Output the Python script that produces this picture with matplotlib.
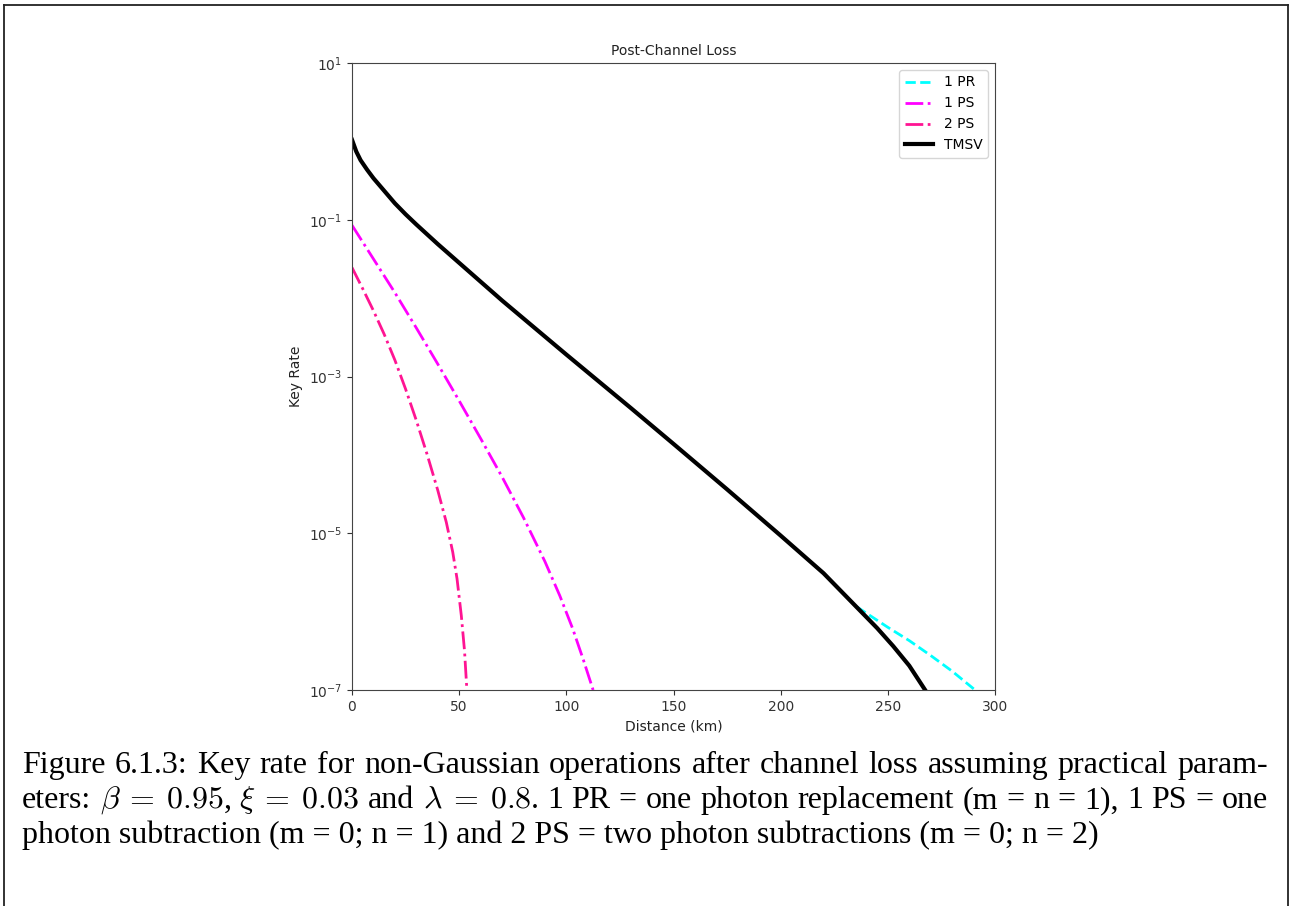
import matplotlib
matplotlib.use("Agg")
import matplotlib.pyplot as plt
import numpy as np
from matplotlib.lines import Line2D

# distances in km, rates as log10(key rate)
tmsv_km = [0, 2, 4, 7, 10, 15, 20, 25, 30, 40, 50, 60, 70, 80, 90, 100,
           115, 130, 150, 175, 200, 220, 235, 245, 252.5, 260, 267.4]
tmsv_log = [0.02, -0.13, -0.24, -0.36, -0.47, -0.63, -0.79, -0.93, -1.06, -1.31,
            -1.55, -1.79, -2.03, -2.26, -2.49, -2.72, -3.06, -3.40, -3.86, -4.44,
            -5.03, -5.51, -5.93, -6.21, -6.44, -6.69, -7.00]

ps1_km = [0, 10, 20, 30, 40, 50, 60, 70, 80, 90, 97, 103, 108, 112.5]
ps1_log = [-1.07, -1.50, -1.93, -2.38, -2.84, -3.31, -3.79, -4.28, -4.80, -5.36,
           -5.80, -6.22, -6.62, -7.00]

ps2_km = [0, 5, 10, 15, 20, 25, 30, 35, 40, 44, 47, 49, 51, 52.5, 53.6]
ps2_log = [-1.61, -1.88, -2.16, -2.46, -2.79, -3.16, -3.56, -3.99, -4.45, -4.86,
           -5.24, -5.58, -6.05, -6.50, -7.00]

pr1_km = [235.6, 240, 250, 260, 270, 280, 290.7]
pr1_log = [-5.94, -6.02, -6.20, -6.37, -6.56, -6.76, -7.00]

caption_1 = ["Figure", "6.1.3:", "Key", "rate", "for", "non-Gaussian", "operations",
             "after", "channel", "loss", "assuming", "practical", "param-"]
caption_2 = ["eters:", r"$\beta\:=\:0.95$,", r"$\xi\:=\:0.03$", "and", r"$\lambda\:=\:0.8$.",
             "1", "PR", "=", "one", "photon", "replacement", "(m", "=", "n", "=", "1),",
             "1", "PS", "=", "one"]
caption_3 = "photon subtraction (m = 0; n = 1) and 2 PS = two photon subtractions (m = 0; n = 2)"

W, H = 1290, 906
fig = plt.figure(figsize=(W / 100, H / 100), dpi=100)
ax = fig.add_axes([352 / W, 1 - 690 / H, (995 - 352) / W, (690 - 63) / H])

ax.plot(pr1_km, np.power(10.0, pr1_log), '--', color='cyan', lw=2, label='1 PR')
ax.plot(ps1_km, np.power(10.0, ps1_log), '-.', color='magenta', lw=2, label='1 PS')
ax.plot(ps2_km, np.power(10.0, ps2_log), '-.', color='#ff1493', lw=2, label='2 PS')
ax.plot(tmsv_km, np.power(10.0, tmsv_log), '-', color='black', lw=3, label='TMSV')

ax.set_yscale('log')
ax.set_xlim(0, 300)
ax.set_ylim(1e-7, 10)
ax.set_yticks([1e1, 1e-1, 1e-3, 1e-5, 1e-7])
ax.minorticks_off()
ax.set_xticks([0, 50, 100, 150, 200, 250, 300])
ax.tick_params(labelsize=10, colors='#333333')
for s in ax.spines.values():
    s.set_color('#444444')
ax.set_title('Post-Channel Loss', fontsize=10, color='#222222')
ax.set_xlabel('Distance (km)', fontsize=10, color='#222222')
ax.set_ylabel('Key Rate', fontsize=10, color='#222222')
ax.legend(loc='upper right', fontsize=10)

# frame around figure + caption
for xs, ys in [([4, 4], [0, H - 5]), ([4, 1288], [H - 5, H - 5]), ([1288, 1288], [0, H - 5])]:
    fig.add_artist(Line2D(np.array(xs) / W, np.array(ys) / H, color='#222222', lw=1.3))

cap_kw = dict(fontsize=23, family='Liberation Serif', math_fontfamily='cm', va='baseline')


def justify(tokens, x0, x1, y):
    r = fig.canvas.get_renderer()
    objs = [fig.text(0, 1 - y / H, t, **cap_kw) for t in tokens]
    widths = [o.get_window_extent(r).width for o in objs]
    gap = (x1 - x0 - sum(widths)) / (len(tokens) - 1)
    x = x0
    for o, w in zip(objs, widths):
        o.set_x(x / W)
        x += w + gap


justify(caption_1, 22, 1268, 773)
justify(caption_2, 22, 1268, 808)
fig.text(22 / W, 1 - 843 / H, caption_3, **cap_kw)

fig.savefig('out.png', dpi=100)
